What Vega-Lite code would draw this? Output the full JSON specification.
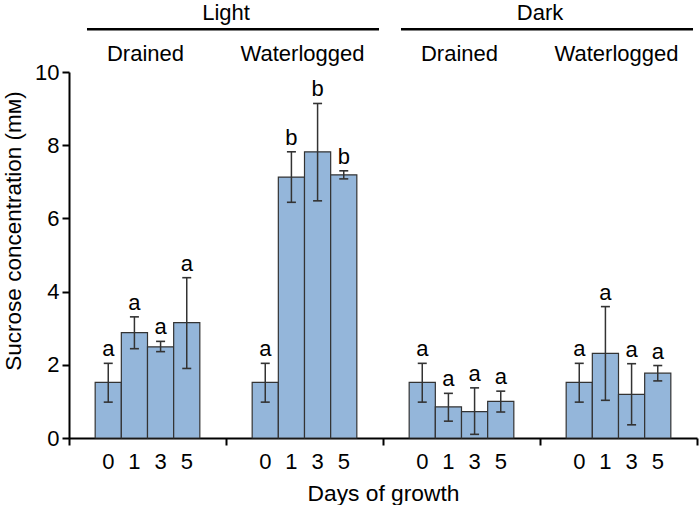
{
  "$schema": "https://vega.github.io/schema/vega-lite/v6.json",
  "width": 628,
  "height": 366,
  "autosize": {"type": "none"},
  "padding": {"left": 69, "top": 72, "right": 2, "bottom": 67},
  "config": {
    "font": "Liberation Sans",
    "view": {"stroke": null},
    "axis": {"labelFont": "Liberation Sans", "titleFont": "Liberation Sans"},
    "text": {"font": "Liberation Sans"}
  },
  "data": {
    "values": [
      {"light": "Light", "water": "Drained", "group": "Light Drained", "day": "0", "mean": 1.52, "lo": 0.98, "hi": 2.04, "letter": "a"},
      {"light": "Light", "water": "Drained", "group": "Light Drained", "day": "1", "mean": 2.88, "lo": 2.44, "hi": 3.31, "letter": "a"},
      {"light": "Light", "water": "Drained", "group": "Light Drained", "day": "3", "mean": 2.49, "lo": 2.36, "hi": 2.64, "letter": "a"},
      {"light": "Light", "water": "Drained", "group": "Light Drained", "day": "5", "mean": 3.15, "lo": 1.9, "hi": 4.38, "letter": "a"},
      {"light": "Light", "water": "Waterlogged", "group": "Light Waterlogged", "day": "0", "mean": 1.52, "lo": 0.98, "hi": 2.04, "letter": "a"},
      {"light": "Light", "water": "Waterlogged", "group": "Light Waterlogged", "day": "1", "mean": 7.13, "lo": 6.44, "hi": 7.82, "letter": "b"},
      {"light": "Light", "water": "Waterlogged", "group": "Light Waterlogged", "day": "3", "mean": 7.82, "lo": 6.48, "hi": 9.14, "letter": "b"},
      {"light": "Light", "water": "Waterlogged", "group": "Light Waterlogged", "day": "5", "mean": 7.19, "lo": 7.08, "hi": 7.3, "letter": "b"},
      {"light": "Dark", "water": "Drained", "group": "Dark Drained", "day": "0", "mean": 1.52, "lo": 0.98, "hi": 2.04, "letter": "a"},
      {"light": "Dark", "water": "Drained", "group": "Dark Drained", "day": "1", "mean": 0.85, "lo": 0.46, "hi": 1.22, "letter": "a"},
      {"light": "Dark", "water": "Drained", "group": "Dark Drained", "day": "3", "mean": 0.72, "lo": 0.1, "hi": 1.37, "letter": "a"},
      {"light": "Dark", "water": "Drained", "group": "Dark Drained", "day": "5", "mean": 1.0, "lo": 0.71, "hi": 1.28, "letter": "a"},
      {"light": "Dark", "water": "Waterlogged", "group": "Dark Waterlogged", "day": "0", "mean": 1.52, "lo": 0.98, "hi": 2.04, "letter": "a"},
      {"light": "Dark", "water": "Waterlogged", "group": "Dark Waterlogged", "day": "1", "mean": 2.31, "lo": 1.03, "hi": 3.59, "letter": "a"},
      {"light": "Dark", "water": "Waterlogged", "group": "Dark Waterlogged", "day": "3", "mean": 1.19, "lo": 0.36, "hi": 2.03, "letter": "a"},
      {"light": "Dark", "water": "Waterlogged", "group": "Dark Waterlogged", "day": "5", "mean": 1.77, "lo": 1.56, "hi": 1.98, "letter": "a"}
    ]
  },
  "resolve": {"scale": {"x": "independent"}},
  "layer": [
    {
      "encoding": {
        "x": {
          "field": "group",
          "type": "nominal",
          "sort": ["Light Drained", "Light Waterlogged", "Dark Drained", "Dark Waterlogged"],
          "scale": {"paddingInner": 0, "paddingOuter": 0},
          "axis": {
            "tickBand": "extent",
            "labels": false,
            "domainColor": "black",
            "domainWidth": 2,
            "tickColor": "black",
            "tickWidth": 2,
            "tickSize": 7,
            "title": "Days of growth",
            "titleFontSize": 22.8,
            "titleFontWeight": "normal",
            "titleColor": "black",
            "titlePadding": 36
          }
        }
      },
      "layer": [
        {
          "mark": {"type": "bar", "fill": "#94b6da", "stroke": "#333333", "strokeWidth": 1.2},
          "encoding": {
            "xOffset": {"field": "day", "type": "nominal", "sort": ["0", "1", "3", "5"], "scale": {"paddingInner": 0, "paddingOuter": 1}},
            "y": {
              "field": "mean",
              "type": "quantitative",
              "title": "Sucrose concentration (mᴍ)",
              "scale": {"domain": [0, 10]},
              "axis": {
                "values": [0, 2, 4, 6, 8, 10],
                "grid": false,
                "domainColor": "black",
                "domainWidth": 2,
                "tickColor": "black",
                "tickWidth": 2,
                "tickSize": 7,
                "labelFontSize": 22,
                "labelColor": "black",
                "labelPadding": 3,
                "titleFontSize": 22.5,
                "titleFontWeight": "normal",
                "titleColor": "black",
                "titlePadding": 9,
                "titleY": 158.5
              }
            }
          }
        },
        {
          "mark": {"type": "rule", "color": "#333333", "strokeWidth": 1.5},
          "encoding": {
            "xOffset": {"field": "day", "type": "nominal", "sort": ["0", "1", "3", "5"]},
            "y": {"field": "lo", "type": "quantitative", "title": "Sucrose concentration (mᴍ)"},
            "y2": {"field": "hi"}
          }
        },
        {
          "mark": {"type": "tick", "orient": "horizontal", "size": 9, "thickness": 1.6, "color": "#333333", "opacity": 1},
          "encoding": {
            "xOffset": {"field": "day", "type": "nominal", "sort": ["0", "1", "3", "5"]},
            "y": {"field": "lo", "type": "quantitative", "title": "Sucrose concentration (mᴍ)"}
          }
        },
        {
          "mark": {"type": "tick", "orient": "horizontal", "size": 9, "thickness": 1.6, "color": "#333333", "opacity": 1},
          "encoding": {
            "xOffset": {"field": "day", "type": "nominal", "sort": ["0", "1", "3", "5"]},
            "y": {"field": "hi", "type": "quantitative", "title": "Sucrose concentration (mᴍ)"}
          }
        },
        {
          "mark": {"type": "text", "fontSize": 22, "color": "black", "baseline": "alphabetic", "dy": -7},
          "encoding": {
            "xOffset": {"field": "day", "type": "nominal", "sort": ["0", "1", "3", "5"]},
            "y": {"field": "hi", "type": "quantitative", "title": "Sucrose concentration (mᴍ)"},
            "text": {"field": "letter"}
          }
        },
        {
          "mark": {"type": "text", "fontSize": 22, "color": "black", "baseline": "alphabetic", "dy": 31},
          "encoding": {
            "xOffset": {"field": "day", "type": "nominal", "sort": ["0", "1", "3", "5"]},
            "y": {"datum": 0},
            "text": {"field": "day"}
          }
        },
        {
          "transform": [{"aggregate": [{"op": "count", "as": "n"}], "groupby": ["group", "water"]}],
          "mark": {"type": "text", "fontSize": 22, "color": "black", "baseline": "alphabetic", "dy": -11, "dx": -2},
          "encoding": {
            "y": {"datum": 10},
            "text": {"field": "water"}
          }
        }
      ]
    },
    {
      "transform": [{"aggregate": [{"op": "count", "as": "n"}], "groupby": ["light"]}],
      "encoding": {
        "x": {
          "field": "light",
          "type": "nominal",
          "sort": ["Light", "Dark"],
          "scale": {"paddingInner": 0, "paddingOuter": 0},
          "axis": null
        }
      },
      "layer": [
        {
          "mark": {"type": "text", "fontSize": 22, "color": "black", "baseline": "alphabetic", "dy": -52.5},
          "encoding": {"y": {"datum": 10}, "text": {"field": "light"}}
        },
        {
          "mark": {"type": "bar", "color": "black", "width": {"band": 0.93}, "xOffset": 7, "yOffset": -44, "y2Offset": -41.5},
          "encoding": {"y": {"datum": 10}, "y2": {"datum": 10}}
        }
      ]
    }
  ]
}
